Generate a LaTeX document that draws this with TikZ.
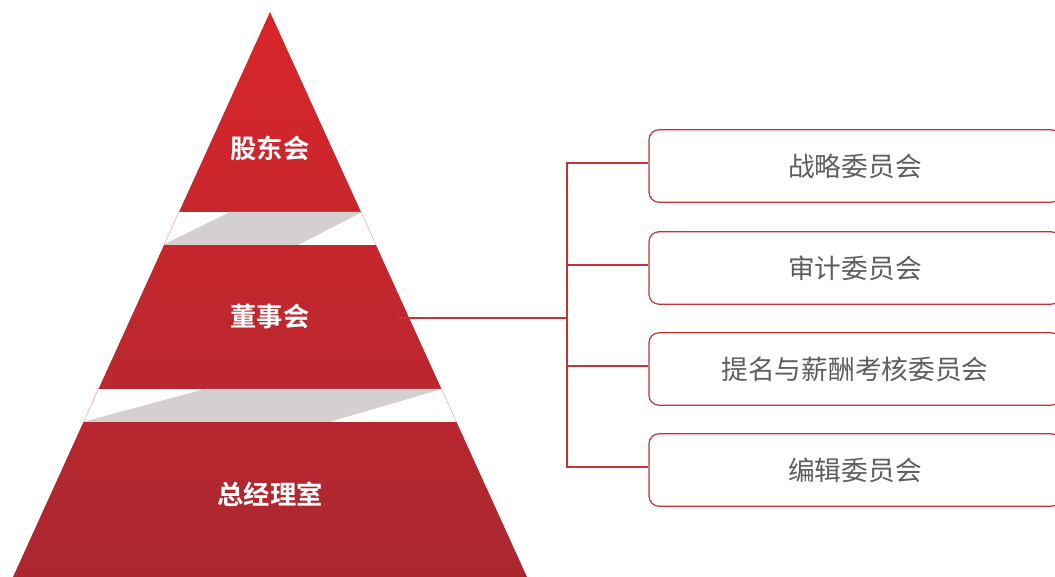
\documentclass[tikz,border=0pt]{standalone}
\usepackage{fontspec}
\newfontfamily\cjk{Noto Sans CJK SC}
\newfontfamily\cjkb{Noto Sans CJK SC Bold}
\usetikzlibrary{calc}
\definecolor{redtop}{HTML}{D8262B}
\definecolor{redbot}{HTML}{AB2730}
\definecolor{gapgray}{HTML}{D4D0CF}
\definecolor{lineRed}{HTML}{C1343A}
\definecolor{edgepink}{HTML}{F2B8BA}
\definecolor{txtgray}{HTML}{5E5E5E}
\tikzset{
  x=1pt,y=1pt,
  pyrtext/.style={text=white,font=\cjkb\fontsize{26.3}{31}\selectfont},
  combox/.style={draw=lineRed,line width=1.2pt,rounded corners=10pt,fill=white,
    minimum width=412pt,minimum height=72.5pt,inner sep=0pt,
    text=txtgray,font=\cjk\fontsize{26.7}{32}\selectfont},
  conn/.style={draw=lineRed,line width=1.2pt},
  gapedge/.style={draw=edgepink,line width=0.5pt}
}
\begin{document}
\begin{tikzpicture}
\useasboundingbox (0,0) rectangle (1055,577);
\clip (0,0) rectangle (1055,577);
% pyramid
\begin{scope}
  \clip (270,565) -- (13,0) -- (527,0) -- cycle;
  \shade[top color=redtop,bottom color=redbot] (0,0) rectangle (540,565);
  \fill[white] (0,332) rectangle (540,365);
  \fill[white] (0,155) rectangle (540,188);
  \fill[gapgray] (163,332) -- (298,332) -- (362,365) -- (230,365) -- cycle;
  \fill[gapgray] (83,155) -- (329,155) -- (442,188) -- (205,188) -- cycle;
\end{scope}
\draw[gapedge] (179,365) -- (164,332);
\draw[gapedge] (361,365) -- (376,332);
\draw[gapedge] (98.5,188) -- (83.5,155);
\draw[gapedge] (441.5,188) -- (456.5,155);
% pyramid labels
\node[pyrtext] (l1) at (270,429) {股东会};
\node[pyrtext] (l2) at (270,261) {董事会};
\node[pyrtext] (l3) at (270,83) {总经理室};
% committee boxes
\node[combox] (b1) at (855,411) {战略委员会};
\node[combox] (b2) at (855,309) {审计委员会};
\node[combox] (b3) at (855,208) {提名与薪酬考核委员会};
\node[combox] (b4) at (855,107) {编辑委员会};
% connectors
\coordinate (start) at (397,259);
\coordinate (hub) at (567,259);
\draw[conn] (start) -- (hub);
\foreach \b in {b1,b2,b3,b4}{
  \draw[conn] (hub) |- ($(\b.west)+(0,3)$);
}
\end{tikzpicture}
\end{document}
